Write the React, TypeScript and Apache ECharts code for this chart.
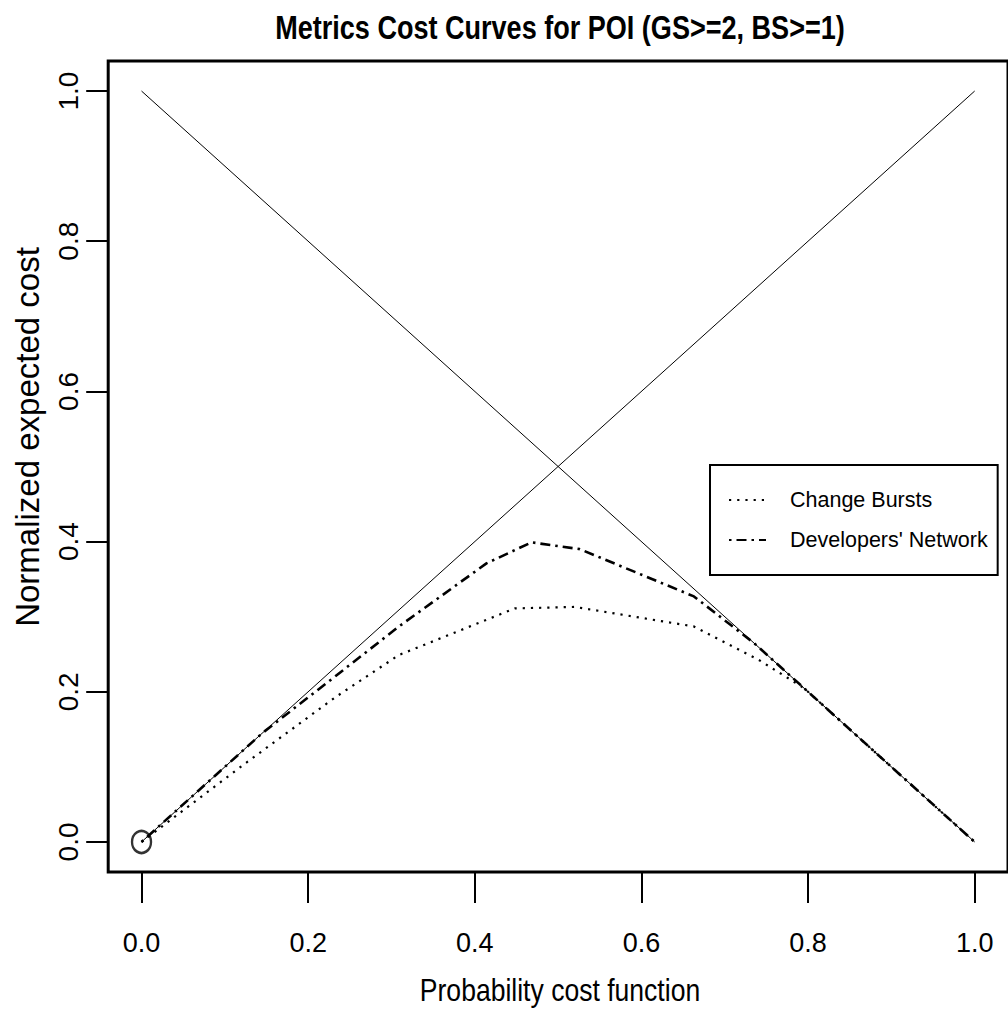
import React, { useEffect, useRef } from "react";
import * as echarts from "echarts";

const chartTitle = "Metrics Cost Curves for POI (GS>=2, BS>=1)";
const xAxisTitle = "Probability cost function";
const yAxisTitle = "Normalized expected cost";
const tickValues = [0, 0.2, 0.4, 0.6, 0.8, 1.0];

const seriesNames = ["Change Bursts", "Developers' Network"];

const changeBurstsX = [0, 0.125, 0.233, 0.309, 0.448, 0.52, 0.663, 0.74, 0.795, 1];
const changeBurstsY = [0, 0.105, 0.193, 0.249, 0.311, 0.313, 0.287, 0.243, 0.205, 0];

const devNetworkX = [0, 0.145, 0.233, 0.309, 0.414, 0.468, 0.526, 0.663, 0.735, 1];
const devNetworkY = [0, 0.145, 0.221, 0.287, 0.371, 0.399, 0.39, 0.327, 0.265, 0];

const diagDownX = [0, 1];
const diagDownY = [1, 0];
const diagUpX = [0, 1];
const diagUpY = [0, 1];

const originPoint = [[0, 0]];

const FONT = "'Liberation Sans', Arial, Helvetica, sans-serif";

const zip = (xs: number[], ys: number[]) => xs.map((x, i) => [x, ys[i]]);

export default function App() {
  const ref = useRef<HTMLDivElement>(null);
  useEffect(() => {
    if (!ref.current) return;
    const chart = echarts.init(ref.current, null, { renderer: "svg" });
    const gridLeft = 108.2;
    const gridTop = 61;
    const gridWidth = 903.6;
    const gridHeight = 811;
    chart.setOption({
      animation: false,
      backgroundColor: "#ffffff",
      graphic: [
        {
          type: "text",
          x: gridLeft + gridWidth / 2,
          y: 28,
          scaleX: 0.82,
          style: {
            text: chartTitle,
            fontFamily: FONT,
            fontSize: 33,
            fontWeight: "bold",
            fill: "#000",
            textAlign: "center",
            textVerticalAlign: "middle",
          },
        },
        {
          type: "text",
          x: gridLeft + gridWidth / 2,
          y: 990,
          scaleX: 0.83,
          style: {
            text: xAxisTitle,
            fontFamily: FONT,
            fontSize: 32,
            fill: "#000",
            textAlign: "center",
            textVerticalAlign: "middle",
          },
        },
        {
          type: "text",
          x: 27,
          y: 437,
          rotation: Math.PI / 2,
          style: {
            text: yAxisTitle,
            fontFamily: FONT,
            fontSize: 33,
            fill: "#000",
            textAlign: "center",
            textVerticalAlign: "middle",
          },
        },
      ],
      grid: {
        left: gridLeft,
        top: gridTop,
        width: gridWidth,
        height: gridHeight,
        show: true,
        borderColor: "#000",
        borderWidth: 3,
        backgroundColor: "transparent",
      },
      legend: {
        orient: "vertical",
        left: 710,
        top: 465,
        data: seriesNames,
        backgroundColor: "#fff",
        borderColor: "#000",
        borderWidth: 2,
        borderRadius: 0,
        padding: [20, 10, 20, 18],
        itemGap: 10,
        itemWidth: 37,
        itemHeight: 14,
        itemStyle: { color: "rgba(0,0,0,0)", borderColor: "rgba(0,0,0,0)", borderWidth: 0, opacity: 0 },
        textStyle: {
          fontFamily: FONT,
          fontSize: 21.5,
          color: "#000",
          lineHeight: 30,
          padding: [0, 0, 0, 19],
        },
      },
      xAxis: {
        type: "value",
        min: -0.04,
        max: 1.04,
        splitLine: { show: false },
        axisLine: { show: false, onZero: false },
        axisTick: {
          show: true,
          inside: false,
          length: 31,
          customValues: tickValues,
          lineStyle: { color: "#000", width: 2 },
        },
        axisLabel: {
          show: true,
          customValues: tickValues,
          formatter: (v: number) => v.toFixed(1),
          fontFamily: FONT,
          fontSize: 27,
          color: "#000",
          margin: 57,
        },
      },
      yAxis: {
        type: "value",
        min: -0.04,
        max: 1.04,
        splitLine: { show: false },
        axisLine: { show: false, onZero: false },
        axisTick: {
          show: true,
          inside: false,
          length: 22,
          customValues: tickValues,
          lineStyle: { color: "#000", width: 2 },
        },
        axisLabel: {
          show: true,
          customValues: tickValues,
          formatter: (v: number) => v.toFixed(1),
          fontFamily: FONT,
          fontSize: 28,
          color: "#000",
          rotate: 90,
          margin: 26,
        },
      },
      series: [
        {
          name: "diagDown",
          type: "line",
          data: zip(diagDownX, diagDownY),
          symbol: "none",
          lineStyle: { color: "#000", width: 1 },
          silent: true,
        },
        {
          name: "diagUp",
          type: "line",
          data: zip(diagUpX, diagUpY),
          symbol: "none",
          lineStyle: { color: "#000", width: 1 },
          silent: true,
        },
        {
          name: seriesNames[0],
          type: "line",
          data: zip(changeBurstsX, changeBurstsY),
          symbol: "none",
          lineStyle: { color: "#000", width: 2.2, type: [2.2, 6] },
          itemStyle: { color: "#000" },
        },
        {
          name: seriesNames[1],
          type: "line",
          data: zip(devNetworkX, devNetworkY),
          symbol: "none",
          lineStyle: { color: "#000", width: 2.6, type: [2.5, 5, 10, 5] },
          itemStyle: { color: "#000" },
        },
        {
          name: "origin",
          type: "scatter",
          data: originPoint,
          symbol: "circle",
          symbolSize: [19, 22],
          itemStyle: { color: "transparent", borderColor: "#000", borderWidth: 2.5 },
          silent: true,
        },
      ],
    });
    return () => chart.dispose();
  }, []);
  return (
    <div
      ref={ref}
      style={{ position: "fixed", left: 0, top: 0, width: 1008, height: 1019, background: "#fff" }}
    />
  );
}
